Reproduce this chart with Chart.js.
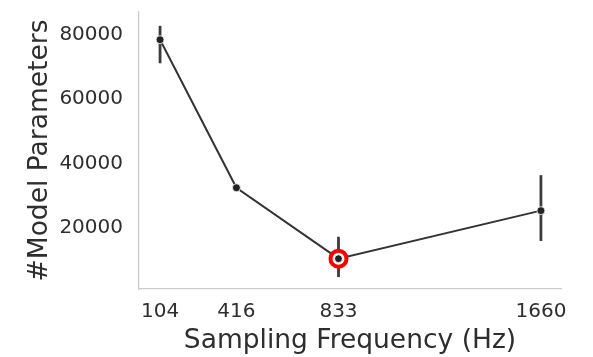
<!DOCTYPE html>
<html>
<head>
<meta charset="utf-8">
<script src="https://cdn.jsdelivr.net/npm/chart.js@4.4.0/dist/chart.umd.min.js"></script>
<style>
  html, body { margin: 0; padding: 0; background: #ffffff; }
  #wrap { width: 593px; height: 357px; }
</style>
</head>
<body>
<div id="wrap"><canvas id="c" width="593" height="357"></canvas></div>
<script>
// Sampling frequencies (Hz) and mean model size with its spread
const frequencies = [104, 416, 833, 1660];
const meanParams  = [78400, 32500, 10500, 25400];
const lowParams   = [71100, 32500, 4800, 16000];
const highParams  = [82700, 32500, 17300, 36400];
const yTicks      = [20000, 40000, 60000, 80000];
const bestFrequency = 833;

const points = frequencies.map((f, i) => ({ x: f, y: meanParams[i] }));
const bestIdx = frequencies.indexOf(bestFrequency);
const bestPoint = [{ x: frequencies[bestIdx], y: meanParams[bestIdx] }];

const tickColor = '#2e2e2e';
const fontFamily = '"DejaVu Sans", sans-serif';

// vertical error bars drawn underneath the line
const errorBars = {
  id: 'errorBars',
  beforeDatasetsDraw(chart) {
    const { ctx, scales: { x, y } } = chart;
    ctx.save();
    ctx.strokeStyle = '#3c3c3c';
    ctx.lineWidth = 2.8;
    ctx.lineCap = 'butt';
    frequencies.forEach((f, i) => {
      if (highParams[i] === lowParams[i]) return;
      const px = x.getPixelForValue(f);
      ctx.beginPath();
      ctx.moveTo(px, y.getPixelForValue(lowParams[i]));
      ctx.lineTo(px, y.getPixelForValue(highParams[i]));
      ctx.stroke();
    });
    ctx.restore();
  }
};

new Chart(document.getElementById('c'), {
  type: 'line',
  data: {
    datasets: [
      {
        data: bestPoint,
        showLine: false,
        order: 1,
        pointBackgroundColor: '#222222',
        pointBorderColor: '#ffffff',
        pointBorderWidth: 1,
        pointRadius: 4
      },
      {
        data: bestPoint,
        showLine: false,
        order: 2,
        pointRadius: 8,
        pointBackgroundColor: '#ffffff',
        pointBorderColor: '#ff0000',
        pointBorderWidth: 4
      },
      {
        data: points,
        order: 3,
        borderColor: '#333333',
        borderWidth: 2,
        tension: 0,
        pointRadius: 4,
        pointBackgroundColor: '#222222',
        pointBorderColor: '#ffffff',
        pointBorderWidth: 0.8
      }
    ]
  },
  options: {
    responsive: false,
    animation: false,
    layout: { padding: { top: 4, right: 32, left: 0, bottom: 0 } },
    plugins: { legend: { display: false }, tooltip: { enabled: false } },
    scales: {
      x: {
        type: 'linear',
        min: 18,
        max: 1742,
        grid: { display: false, drawTicks: false },
        border: { display: true, color: '#cccccc', width: 1.3 },
        afterBuildTicks(scale) { scale.ticks = frequencies.map(v => ({ value: v })); },
        afterFit(scale) {
          scale.height = 68;
          scale.paddingLeft = 0;
          scale.paddingRight = 0;
        },
        ticks: {
          color: tickColor,
          font: { family: fontFamily, size: 20 },
          padding: 11,
          maxRotation: 0,
          autoSkip: false,
          callback: v => String(v)
        },
        title: {
          display: true,
          text: 'Sampling Frequency (Hz)',
          color: tickColor,
          font: { family: fontFamily, size: 26.5 },
          padding: { top: 0, bottom: 0 }
        }
      },
      y: {
        type: 'linear',
        min: 1100,
        max: 87000,
        grid: { display: false, drawTicks: false },
        border: { display: true, color: '#cccccc', width: 1.3 },
        afterBuildTicks(scale) { scale.ticks = yTicks.map(v => ({ value: v })); },
        afterFit(scale) {
          scale.width = 139;
          scale.paddingTop = 0;
          scale.paddingBottom = 0;
        },
        ticks: {
          color: tickColor,
          font: { family: fontFamily, size: 20 },
          padding: 16,
          callback: v => String(v)
        },
        title: {
          display: true,
          text: '#Model Parameters',
          color: tickColor,
          font: { family: fontFamily, size: 26.5 },
          padding: { top: 24, bottom: 0 }
        }
      }
    }
  },
  plugins: [errorBars]
});
</script>
</body>
</html>
